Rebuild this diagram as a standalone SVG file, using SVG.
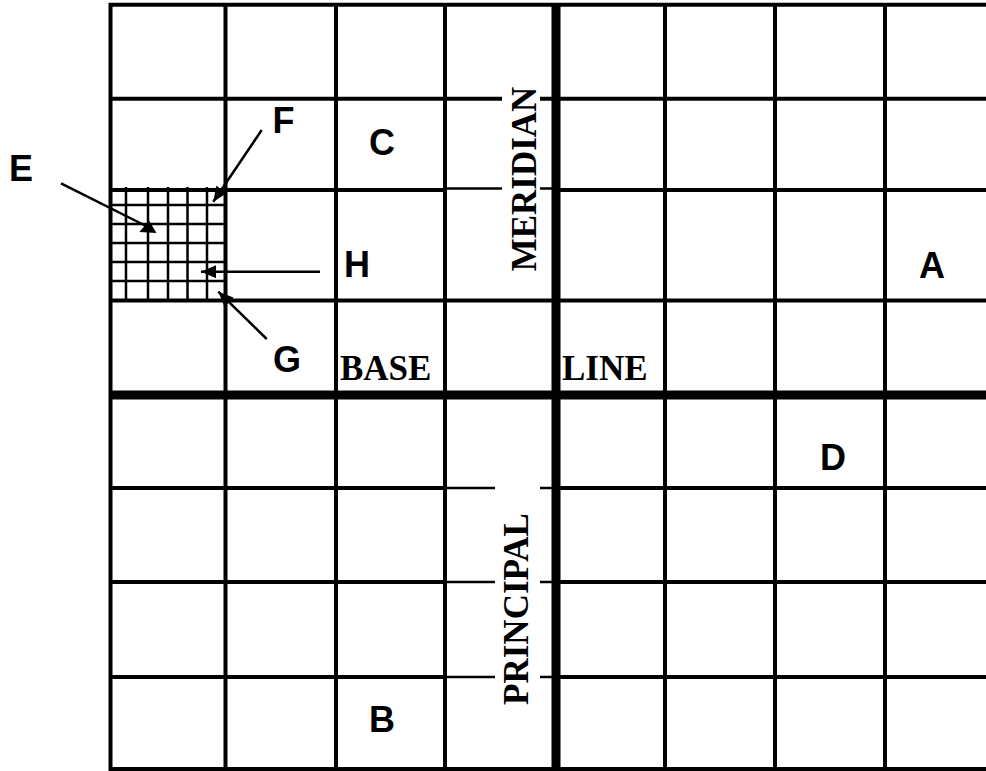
<svg xmlns="http://www.w3.org/2000/svg" width="986" height="771" viewBox="0 0 986 771">
<style>
.g{stroke:#000;stroke-width:4;fill:none}
.t{stroke:#000;stroke-width:2.5;fill:none}
.k{stroke:#000;stroke-width:9;fill:none}
.s{stroke:#000;stroke-width:2}
.sans{font-family:"Liberation Sans",Arial,sans-serif;font-weight:bold;font-size:36px;fill:#000}
.serif{font-family:"Liberation Serif","Times New Roman",serif;font-weight:bold;font-size:35px;fill:#000}
.c{stroke:#000;stroke-width:2.5;fill:none}
</style>
<defs>
<marker id="ah" markerUnits="userSpaceOnUse" markerWidth="16" markerHeight="14" refX="15" refY="6.5" orient="auto">
<path d="M0,0 L15,6.5 L0,13 z" fill="#000"/>
</marker>
</defs>
<rect width="986" height="771" fill="#fff"/>
<g id="grid">
<!-- outer frame -->
<path class="g" d="M110.5,4.7 H986 M110.5,2.7 V771 M108.5,769 H986"/>
<!-- verticals -->
<path class="g" d="M225.5,4.7 V771 M336,4.7 V771 M445,4.7 V771 M665,4.7 V771 M775,4.7 V771 M885,4.7 V771"/>
<!-- rows left of principal column -->
<path class="g" d="M110.5,98.7 H445 M110.5,190 H445 M110.5,300.5 H986 M110.5,488 H445 M110.5,582 H445 M110.5,677 H445"/>
<!-- rows right of principal meridian -->
<path class="g" d="M556,98.7 H986 M556,190 H986 M556,488 H986 M556,582 H986 M556,677 H986"/>
<!-- rows within meridian column, broken by the labels -->
<path class="g" d="M445,98.7 H502 M540,98.7 H556"/>
<path class="t" d="M445,188.5 H502 M540,188.5 H556 M445,488 H495 M540,488 H556 M445,582 H495 M540,582 H556 M445,677 H495 M540,677 H556"/>
<!-- principal meridian and base line -->
<path class="k" d="M556,4.7 V771 M110.5,395 H986"/>
</g>
<g id="subgrid">
<path class="t" d="M126,187 V300.5 M148,187 V300.5 M168,187 V300.5 M187.5,187 V300.5 M207,187 V300.5"/>
<path class="t" d="M110.5,205 H225.5 M110.5,224 H225.5 M110.5,243 H225.5 M110.5,262 H225.5 M110.5,281 H225.5"/>
</g>
<g id="connectors">
<line class="c" x1="261.7" y1="130" x2="213.3" y2="201.7" marker-end="url(#ah)"/>
<line class="c" x1="320" y1="271.7" x2="201" y2="271.7" marker-end="url(#ah)"/>
<line class="c" x1="266.7" y1="339" x2="218.3" y2="291.7" marker-end="url(#ah)"/>
<line class="c" x1="61" y1="183.3" x2="146" y2="226"/>
<polygon points="139.3,232 156.5,233 149,220.5" fill="#000"/>
</g>
<g id="node-A"><text class="sans" x="919" y="278">A</text></g>
<g id="node-B"><text class="sans" x="369" y="732">B</text></g>
<g id="node-C"><text class="sans" x="369" y="155">C</text></g>
<g id="node-D"><text class="sans" x="820" y="470">D</text></g>
<g id="node-E"><text class="sans" x="9" y="180.5">E</text></g>
<g id="node-F"><text class="sans" x="272.5" y="133">F</text></g>
<g id="node-G"><text class="sans" x="273" y="372">G</text></g>
<g id="node-H"><text class="sans" x="344" y="276.5">H</text></g>
<g id="label-meridian"><text class="serif" text-anchor="middle" transform="translate(536,179) rotate(-90)">MERIDIAN</text></g>
<g id="label-principal"><text class="serif" text-anchor="middle" transform="translate(528,609) rotate(-90)">PRINCIPAL</text></g>
<g id="label-base"><text class="serif" x="340" y="380">BASE</text></g>
<g id="label-line"><text class="serif" x="562" y="380">LINE</text></g>
</svg>
